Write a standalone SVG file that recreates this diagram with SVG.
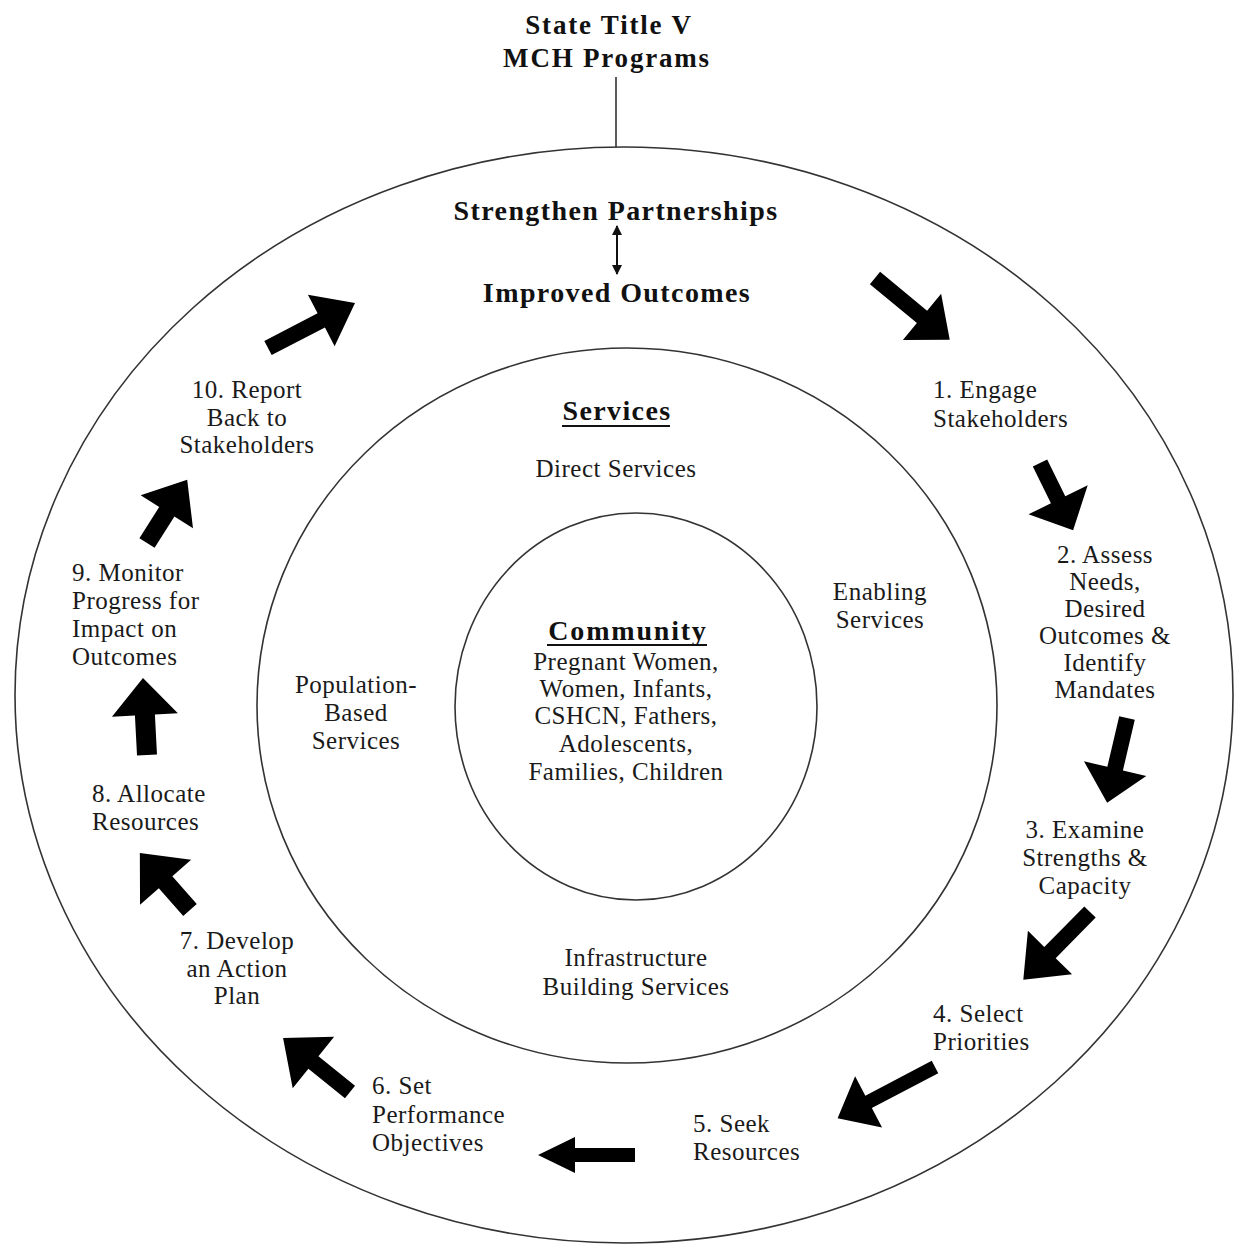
<svg xmlns="http://www.w3.org/2000/svg" width="1241" height="1247" viewBox="0 0 1241 1247">
<style>
.ring{fill:none;stroke:#333;stroke-width:1.6}
.t{font-family:"Liberation Serif","Times New Roman",serif;font-size:25px;fill:#1a1a1a;letter-spacing:0.5px}
.c{text-anchor:middle}
.b{font-family:"Liberation Serif","Times New Roman",serif;font-weight:bold;font-size:28px;fill:#111;letter-spacing:1.4px}
.ul{stroke:#111;stroke-width:2}
.arr{fill:#000}
</style>
<defs>
<marker id="tip" viewBox="0 0 10 10" refX="9" refY="5" markerWidth="5" markerHeight="5" orient="auto-start-reverse" markerUnits="strokeWidth">
<path d="M0,0 L10,5 L0,10 z" fill="#111"/>
</marker>
</defs>
<rect width="1241" height="1247" fill="#fff"/>

<g id="title">
<text class="b c" x="609" y="34" style="font-size:27px;letter-spacing:1.8px">State Title V</text>
<text class="b c" x="607" y="67" style="font-size:27px;letter-spacing:1.8px">MCH Programs</text>
</g>

<g id="outer-ring">
<ellipse class="ring" cx="624" cy="695" rx="609" ry="548"/>
<text class="b c" x="616" y="220">Strengthen Partnerships</text>
<text class="b c" x="617" y="302">Improved Outcomes</text>
</g>

<g id="services-ring">
<ellipse class="ring" cx="627" cy="705.5" rx="370" ry="357.5"/>
<text class="b c" x="617" y="420">Services</text>
<line class="ul" x1="562" y1="426" x2="670" y2="426"/>
<text class="t c" x="616" y="477">Direct Services</text>
</g>

<g id="enabling">
<text class="t c" x="880" y="600">Enabling</text>
<text class="t c" x="880" y="628">Services</text>
</g>

<g id="population">
<text class="t c" x="356" y="693">Population-</text>
<text class="t c" x="356" y="721">Based</text>
<text class="t c" x="356" y="749">Services</text>
</g>

<g id="infrastructure">
<text class="t c" x="636" y="966">Infrastructure</text>
<text class="t c" x="636" y="995">Building Services</text>
</g>

<g id="community">
<ellipse class="ring" cx="636" cy="706.5" rx="181" ry="193.5"/>
<text class="b c" x="628" y="640" style="letter-spacing:1.8px">Community</text>
<line class="ul" x1="547" y1="645" x2="707" y2="645"/>
<text class="t c" x="626" y="670">Pregnant Women,</text>
<text class="t c" x="626" y="697">Women, Infants,</text>
<text class="t c" x="626" y="724">CSHCN, Fathers,</text>
<text class="t c" x="626" y="752">Adolescents,</text>
<text class="t c" x="626" y="780">Families, Children</text>
</g>

<g id="step1">
<text class="t" x="933" y="398">1. Engage</text>
<text class="t" x="933" y="427">Stakeholders</text>
</g>
<g id="step2">
<text class="t c" x="1105" y="563">2. Assess</text>
<text class="t c" x="1105" y="590">Needs,</text>
<text class="t c" x="1105" y="617">Desired</text>
<text class="t c" x="1105" y="644">Outcomes &amp;</text>
<text class="t c" x="1105" y="671">Identify</text>
<text class="t c" x="1105" y="698">Mandates</text>
</g>
<g id="step3">
<text class="t c" x="1085" y="838">3. Examine</text>
<text class="t c" x="1085" y="866">Strengths &amp;</text>
<text class="t c" x="1085" y="894">Capacity</text>
</g>
<g id="step4">
<text class="t" x="933" y="1022">4. Select</text>
<text class="t" x="933" y="1050">Priorities</text>
</g>
<g id="step5">
<text class="t" x="693" y="1132">5. Seek</text>
<text class="t" x="693" y="1160">Resources</text>
</g>
<g id="step6">
<text class="t" x="372" y="1094">6. Set</text>
<text class="t" x="372" y="1123">Performance</text>
<text class="t" x="372" y="1151">Objectives</text>
</g>
<g id="step7">
<text class="t c" x="237" y="949">7. Develop</text>
<text class="t c" x="237" y="977">an Action</text>
<text class="t c" x="237" y="1004">Plan</text>
</g>
<g id="step8">
<text class="t" x="92" y="802">8. Allocate</text>
<text class="t" x="92" y="830">Resources</text>
</g>
<g id="step9">
<text class="t" x="72" y="581">9. Monitor</text>
<text class="t" x="72" y="609">Progress for</text>
<text class="t" x="72" y="637">Impact on</text>
<text class="t" x="72" y="665">Outcomes</text>
</g>
<g id="step10">
<text class="t c" x="247" y="398">10. Report</text>
<text class="t c" x="247" y="426">Back to</text>
<text class="t c" x="247" y="453">Stakeholders</text>
</g>

<g id="connectors">
<line x1="616" y1="77" x2="616" y2="147" stroke="#333" stroke-width="1.6"/>
<line x1="617" y1="226" x2="617" y2="274" stroke="#111" stroke-width="2" marker-start="url(#tip)" marker-end="url(#tip)"/>
<polygon class="arr" transform="translate(875,278) rotate(39.6)" points="0,-8 61,-8 61,-30 97,0 61,30 61,8 0,8"/>
<polygon class="arr" transform="translate(1040,463) rotate(63.8)" points="0,-8 41,-8 41,-33 75,0 41,33 41,8 0,8"/>
<polygon class="arr" transform="translate(1127,718) rotate(103.2)" points="0,-8 52,-8 52,-32 87,0 52,32 52,8 0,8"/>
<polygon class="arr" transform="translate(1090,912) rotate(134.6)" points="0,-8 57,-8 57,-31 95,0 57,31 57,8 0,8"/>
<polygon class="arr" transform="translate(935,1067) rotate(152.3)" points="0,-7 75,-7 75,-29 110,0 75,29 75,7 0,7"/>
<polygon class="arr" transform="translate(635,1155) rotate(180)" points="0,-7 60,-7 60,-18 97,0 60,18 60,7 0,7"/>
<polygon class="arr" transform="translate(350,1092) rotate(-141.1)" points="0,-8 47,-8 47,-33 86,0 47,33 47,8 0,8"/>
<polygon class="arr" transform="translate(190,910) rotate(-131.3)" points="0,-9 37,-9 37,-34 76,0 37,34 37,9 0,9"/>
<polygon class="arr" transform="translate(147,755) rotate(-93)" points="0,-10 40,-10 40,-33 77,0 40,33 40,10 0,10"/>
<polygon class="arr" transform="translate(147,543) rotate(-57.6)" points="0,-9 37,-9 37,-31 75,0 37,31 37,9 0,9"/>
<polygon class="arr" transform="translate(268,348) rotate(-27.4)" points="0,-8 60,-8 60,-29 98,0 60,29 60,8 0,8"/>
</g>
</svg>
